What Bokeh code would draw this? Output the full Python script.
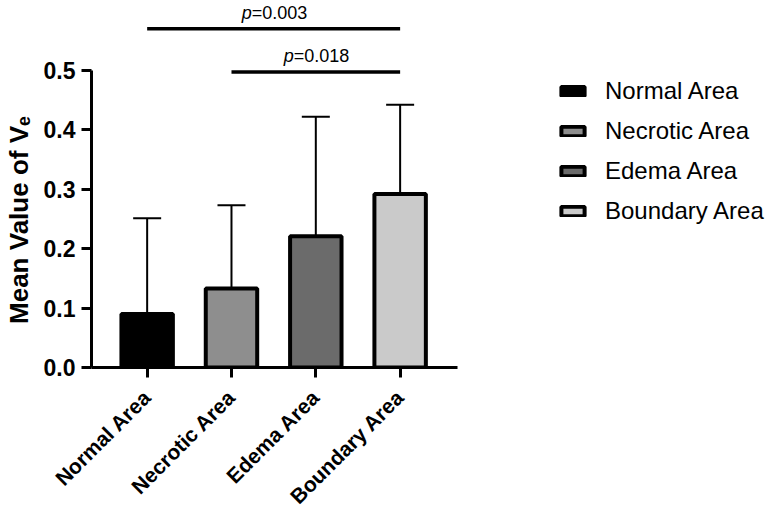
from bokeh.plotting import figure
from bokeh.models import (ColumnDataSource, Range1d, FixedTicker, NumeralTickFormatter,
                          Whisker, TeeHead, Legend, LegendItem)
from bokeh.core.properties import value
from bokeh.embed import file_html
from bokeh.resources import INLINE

# ---- data ----
categories = ["Normal Area", "Necrotic Area", "Edema Area", "Boundary Area"]
means = [0.090, 0.133, 0.221, 0.292]
sds = [0.161, 0.140, 0.201, 0.150]
fills = ["#000000", "#8e8e8e", "#6b6b6b", "#cacaca"]
y_ticks = [0.0, 0.1, 0.2, 0.3, 0.4, 0.5]
# significance brackets: (from index, to index, height, p-value text)
comp_from = [0, 1]
comp_to = [3, 3]
comp_height = [0.570, 0.497]
comp_text_y = [0.597, 0.524]
comp_p = ["=0.003", "=0.018"]

FONT = "Liberation Sans"

xs = list(range(len(categories)))
src = ColumnDataSource(dict(x=xs, top=means, fill=fills,
                            upper=[m + s for m, s in zip(means, sds)], lower=means))

p = figure(width=770, height=519, output_backend="svg", toolbar_location=None,
           x_range=Range1d(-0.66, 7.392), y_range=Range1d(0, 0.6174),
           min_border_left=88, min_border_right=0, min_border_top=0,
           min_border_bottom=151)
p.outline_line_color = None
p.xgrid.visible = False
p.ygrid.visible = False
p.background_fill_color = "white"
p.border_fill_color = "white"

bars = p.vbar(x="x", top="top", width=0.61, bottom=0, source=src,
              fill_color="fill", line_color="black", line_width=4)

wh = Whisker(base="x", upper="upper", lower="lower", source=src,
             line_color="black", line_width=2,
             upper_head=TeeHead(size=28, line_color="black", line_width=2),
             lower_head=None)
p.add_layout(wh)

# significance brackets
bx0 = [xs[i] for i in comp_from]
bx1 = [xs[j] for j in comp_to]
p.segment(x0=bx0, x1=bx1, y0=comp_height, y1=comp_height, line_color="black", line_width=3.5)
mids = [(a + b) / 2 for a, b in zip(bx0, bx1)]
p.text(x=mids, y=comp_text_y, text=["p"] * len(mids), x_offset=-22,
       text_align="right", text_baseline="alphabetic", text_font=value(FONT),
       text_font_style="italic", text_font_size="18px", text_color="black")
p.text(x=mids, y=comp_text_y, text=comp_p, x_offset=-22,
       text_align="left", text_baseline="alphabetic", text_font=value(FONT),
       text_font_size="18px", text_color="black")

# x axis
xa = p.xaxis[0]
xa.ticker = FixedTicker(ticks=xs)
xa.bounds = (-0.66, 3.685)
xa.major_label_overrides = {i: c for i, c in zip(xs, categories)}
xa.major_label_orientation = 0.785398
xa.major_label_text_font = FONT
xa.major_label_text_font_style = "bold"
xa.major_label_text_font_size = "21px"
xa.major_label_text_color = "black"
xa.major_label_standoff = 16
xa.axis_line_width = 3
xa.axis_line_color = "black"
xa.major_tick_line_width = 3
xa.major_tick_line_color = "black"
xa.major_tick_out = 10
xa.major_tick_in = 0
xa.minor_tick_line_color = None

# y axis
ya = p.yaxis[0]
ya.ticker = FixedTicker(ticks=y_ticks)
ya.formatter = NumeralTickFormatter(format="0.0")
ya.bounds = (0, 0.5)
ya.axis_label = "Mean Value of V\u2091" + "\u00a0" * 10
ya.axis_label_text_font = FONT
ya.axis_label_text_font_style = "bold"
ya.axis_label_text_font_size = "26px"
ya.axis_label_text_color = "black"
ya.axis_label_standoff = 7
ya.major_label_text_font = FONT
ya.major_label_text_font_style = "bold"
ya.major_label_text_font_size = "23px"
ya.major_label_text_color = "black"
ya.major_label_standoff = 6
ya.axis_line_width = 3
ya.axis_line_color = "black"
ya.major_tick_line_width = 3
ya.major_tick_line_color = "black"
ya.major_tick_out = 10
ya.major_tick_in = 0
ya.minor_tick_line_color = None

# legend
items = [LegendItem(label=c, renderers=[bars], index=i) for i, c in enumerate(categories)]
legend = Legend(items=items, location=(467, 142), padding=0, margin=0, spacing=12,
                glyph_width=29, glyph_height=12, label_height=26, label_standoff=18,
                label_text_font=FONT, label_text_font_size="24px",
                label_text_color="black", border_line_color=None,
                background_fill_alpha=0)
p.add_layout(legend, "center")

open("out.html", "w").write(file_html(p, INLINE))
